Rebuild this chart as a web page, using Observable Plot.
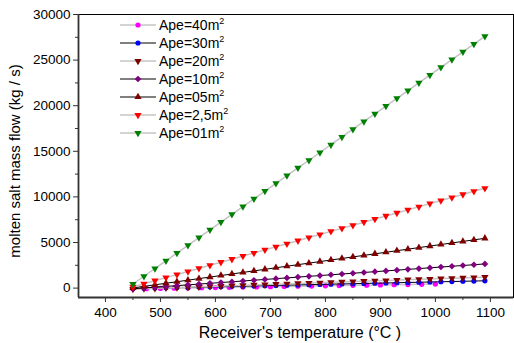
<!DOCTYPE html>
<html><head><meta charset="utf-8">
<script src="https://cdn.jsdelivr.net/npm/d3@7"></script>
<script src="https://cdn.jsdelivr.net/npm/@observablehq/plot@0.6"></script>
<style>
body{margin:0;background:#fff;font-family:"Liberation Sans",Arial,sans-serif}
#wrap{position:relative;width:514px;height:343px}
#wrap svg{display:block}
</style>
</head><body><div id="wrap"></div>
<script>
// ---- data ----
const temps = [450,470,490,510,530,550,570,590,610,630,650,670,690,710,730,750,770,790,810,830,850,870,890,910,930,950,970,990,1010,1030,1050,1070,1090];
const tempsApe40 = [450,475,500,525,550,575,600,625,650,675,700,725,750,775,800,825,850,875,900,925,950,975,1000];
const ape40 = [-80,-55,-35,-10,15,40,60,85,110,130,155,180,205,225,250,275,300,320,345,370,390,415,440];
const ape30 = [-50,-25,0,30,55,80,110,135,160,190,215,240,270,295,320,350,375,400,430,455,480,510,535,560,590,615,640,670,695,720,750,775,800];
const ape20 = [-100,-60,-20,20,60,100,145,185,225,265,305,345,390,430,470,510,550,590,635,675,715,755,795,835,880,920,960,1000,1040,1080,1120,1160,1200];
const ape10 = [-70,15,100,185,270,355,440,525,610,695,780,865,950,1035,1120,1205,1290,1375,1460,1545,1630,1715,1800,1885,1970,2055,2140,2225,2310,2395,2480,2565,2650];
const ape05 = [20,190,360,530,700,870,1040,1210,1380,1550,1720,1890,2060,2230,2400,2570,2740,2910,3080,3250,3420,3590,3760,3930,4100,4270,4440,4610,4780,4950,5120,5290,5460];
const ape2_5 = [130,470,810,1150,1480,1820,2160,2500,2840,3170,3510,3850,4190,4530,4860,5200,5540,5880,6220,6550,6890,7230,7570,7910,8240,8580,8920,9260,9600,9930,10270,10610,10950];
const ape01 = [450,1300,2150,2990,3840,4690,5540,6390,7240,8080,8930,9780,10630,11480,12330,13180,14020,14870,15720,16570,17420,18270,19110,19960,20810,21660,22510,23360,24210,25050,25900,26750,27600];
const seriesLabels = ["Ape=40m","Ape=30m","Ape=20m","Ape=10m","Ape=05m","Ape=2,5m","Ape=01m"];
const xTicks = [400,500,600,700,800,900,1000,1100];
const xMinorTicks = [450,550,650,750,850,950,1050];
const yTicks = [0,5000,10000,15000,20000,25000,30000];
const yMinorTicks = [2500,7500,12500,17500,22500,27500];
const xLabel = "Receiver's temperature (°C )";
const yLabel = "molten salt mass flow (kg / s)";

// ---- styling ----
const GREY = "#c4c4c4";
const series = [
  {label: seriesLabels[0], xs: tempsApe40, ys: ape40, color: "#ff00ff", symbol: "circle", rotate: 0, line: GREY, lw: 1.5, r: 2.6},
  {label: seriesLabels[1], xs: temps, ys: ape30, color: "#0000ff", symbol: "circle", rotate: 0, line: "#000", lw: 1, r: 2.6},
  {label: seriesLabels[2], xs: temps, ys: ape20, color: "#800000", symbol: "triangle", rotate: 180, line: GREY, lw: 1.5, r: 2.7},
  {label: seriesLabels[3], xs: temps, ys: ape10, color: "#800080", symbol: "diamond2", rotate: 0, line: "#000", lw: 1, r: 3},
  {label: seriesLabels[4], xs: temps, ys: ape05, color: "#800000", symbol: "triangle", rotate: 0, line: "#000", lw: 1, r: 2.7},
  {label: seriesLabels[5], xs: temps, ys: ape2_5, color: "#ff0000", symbol: "triangle", rotate: 180, line: GREY, lw: 1.5, r: 2.7},
  {label: seriesLabels[6], xs: temps, ys: ape01, color: "#008000", symbol: "triangle", rotate: 180, line: GREY, lw: 1.5, r: 2.7}
];

const marks = [];
for (const s of series) {
  const rows = s.xs.map((x, i) => ({x, y: s.ys[i]}));
  marks.push(Plot.line(rows, {x: "x", y: "y", stroke: s.line, strokeWidth: s.lw}));
  marks.push(Plot.dot(rows, {x: "x", y: "y", fill: s.color, symbol: s.symbol, r: s.r, rotate: s.rotate, stroke: "none"}));
}

const xDomain = [351, 1142];
const yDomain = [-1030, 30000];

const plot = Plot.plot({
  width: 514,
  height: 343,
  marginLeft: 78,
  marginRight: 1,
  marginTop: 14,
  marginBottom: 46,
  style: {fontFamily: "'Liberation Sans', Arial, sans-serif", fontSize: "13.5px", color: "#000", background: "#fff"},
  x: {domain: xDomain, label: null},
  y: {domain: yDomain, label: null},
  marks: [
    ...marks,
    Plot.frame({stroke: "#000", strokeWidth: 1}),
    Plot.ruleX([xDomain[0]], {stroke: "#333", strokeWidth: 1.8}),
    Plot.ruleY([yDomain[0]], {stroke: "#333", strokeWidth: 1.8}),
    Plot.axisX({ticks: xTicks, tickSize: 5, tickPadding: 5, stroke: "#333", fill: "#000", label: null, tickFormat: d => String(d)}),
    Plot.axisX({ticks: xMinorTicks, tickSize: 3, tickFormat: () => "", stroke: "#333", label: null}),
    Plot.axisY({ticks: yTicks, tickSize: 5, tickPadding: 3, stroke: "#333", fill: "#000", label: null, tickFormat: d => String(d)}),
    Plot.axisY({ticks: yMinorTicks, tickSize: 3, tickFormat: () => "", stroke: "#333", label: null})
  ]
});

const wrap = document.getElementById("wrap");
wrap.appendChild(plot);

// axis titles
const svg = d3.select(plot);
svg.append("text").attr("x", 300).attr("y", 338).attr("text-anchor", "middle")
  .style("font-size", "16px").attr("fill", "#000").text(xLabel);
svg.append("text").attr("transform", "translate(20,161) rotate(-90)").attr("text-anchor", "middle")
  .style("font-size", "15px").attr("fill", "#000").text(yLabel);

// legend
const symMap = {circle: d3.symbolCircle, triangle: d3.symbolTriangle, diamond2: d3.symbolDiamond2};
const leg = svg.append("g").attr("transform", "translate(120,25)");
series.forEach((s, i) => {
  const g = leg.append("g").attr("transform", `translate(0,${i * 18})`);
  g.append("line").attr("x1", 0).attr("x2", 36).attr("y1", 0).attr("y2", 0)
    .attr("stroke", s.line).attr("stroke-width", s.lw);
  g.append("path").attr("d", d3.symbol(symMap[s.symbol], Math.PI * s.r * s.r)())
    .attr("transform", `translate(18,0) rotate(${s.rotate})`).attr("fill", s.color);
  const t = g.append("text").attr("x", 39).attr("y", 5).attr("text-anchor", "start")
    .style("font-size", "14px").attr("fill", "#000");
  t.append("tspan").text(s.label);
  t.append("tspan").attr("dy", -6).style("font-size", "9px").text("2");
});
</script>
</body></html>
